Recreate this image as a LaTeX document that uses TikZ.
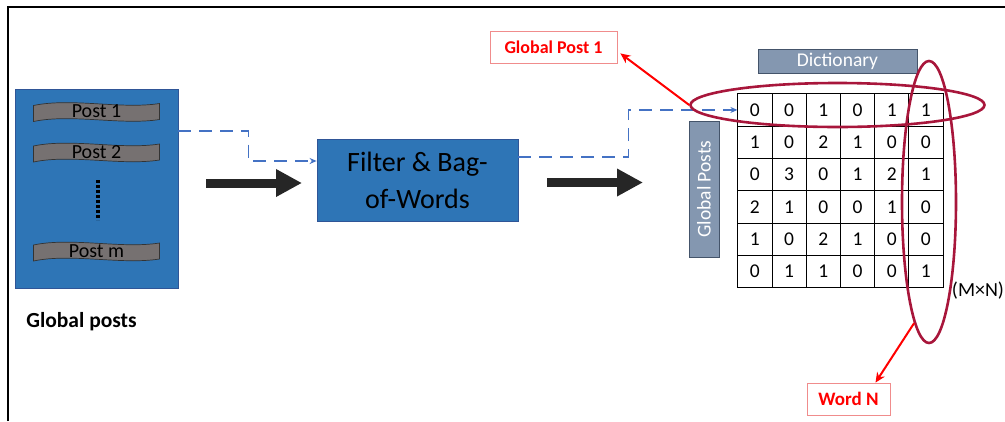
\documentclass[tikz,border=0pt]{standalone}
\usepackage{fontspec}
\setmainfont{Carlito}
\usetikzlibrary{arrows.meta,matrix,shapes.geometric,positioning}
\definecolor{boxblue}{HTML}{2E75B6}
\definecolor{boxedge}{HTML}{2F5597}
\definecolor{linkblue}{HTML}{4472C4}
\definecolor{postgrey}{HTML}{767171}
\definecolor{slate}{HTML}{8497B0}
\definecolor{slateedge}{HTML}{44546A}
\definecolor{ringred}{HTML}{A8163B}
\definecolor{tagred}{HTML}{FF0000}
\definecolor{tagedge}{HTML}{F08C8C}
\definecolor{heavy}{HTML}{262626}
\newcommand{\postband}[4]{%
\draw[fill=postgrey,draw=black!80,line width=.7pt] (#1-63,#2-6) .. controls (#1-25,#2-14) and (#1+25,#2-2) .. (#1+63,#2-8) -- (#1+63,#2+8) .. controls (#1+25,#2+14) and (#1-25,#2+2) .. (#1-63,#2+10) -- cycle;
\node[inner sep=0pt,font=\fontsize{20}{22}\selectfont] (#3) at (#1,#2) {#4};}
\begin{document}
\begin{tikzpicture}[x=1pt,y=-1pt,line width=.8pt,
  bluebox/.style={draw=boxedge,fill=boxblue,inner sep=0pt},
  slatebox/.style={draw=slateedge,fill=slate,text=white,inner sep=0pt,font=\fontsize{19.5}{22}\selectfont},
  tagbox/.style={draw=tagedge,text=tagred,inner sep=0pt,font=\bfseries\fontsize{18}{21}\selectfont},
  link/.style={linkblue,line width=1.8pt,dash pattern=on 13pt off 8pt,-{Stealth[length=7pt,width=6pt]}},
  bigarrow/.style={heavy,line width=9pt,-{Triangle[length=26pt,width=26pt]}},
  ring/.style={draw=ringred,line width=2.6pt,ellipse,inner sep=0pt},
  pointer/.style={tagred,line width=2pt,-{Stealth[length=10pt,width=9pt]}},
  cell/.style={draw,anchor=center,minimum width=34.2pt,minimum height=32.3pt,inner sep=0pt,text height=12.5pt,text depth=0pt,font=\fontsize{19.5}{22}\selectfont}]
\path[use as bounding box] (0,0) rectangle (1005,421);
\draw[line width=1.4pt] (8,421) -- (8,7) -- (1005,7);
\node[bluebox,minimum width=163pt,minimum height=199pt] (posts) at (96.5,188.5) {};
\postband{96.5}{111.5}{post1}{Post 1}
\postband{96.5}{152}{post2}{Post 2}
\postband{96.5}{251}{postm}{Post m}
\draw[line width=3.5pt,dash pattern=on 2.5pt off 2.5pt] (98,180) -- (98,220);
\node[anchor=west,inner sep=0pt,font=\bfseries\fontsize{21.5}{24}\selectfont] (gplabel) at (26,322) {Global posts};
\node[bluebox,minimum width=201pt,minimum height=82pt,align=center,font=\fontsize{28}{37}\selectfont] (bow) at (417.5,180) {Filter \& Bag-\\of-Words};
\draw[link] ([yshift=-42pt]posts.north east) -- ++(70,0) |- ([yshift=19pt]bow.west);
\coordinate (a1s) at (206,183);
\coordinate (a1e) at (302,183);
\draw[bigarrow] (a1s) -- (a1e);
\coordinate (a2s) at (547,182.5);
\coordinate (a2e) at (643,182.5);
\draw[bigarrow] (a2s) -- (a2e);
\matrix (dtm) [matrix of nodes,anchor=north west,inner sep=0pt,column sep=-.8pt,row sep=-.8pt,nodes={cell}] at (737,93) {
0 & 0 & 1 & 0 & 1 & 1 \\
1 & 0 & 2 & 1 & 0 & 0 \\
0 & 3 & 0 & 1 & 2 & 1 \\
2 & 1 & 0 & 0 & 1 & 0 \\
1 & 0 & 2 & 1 & 0 & 0 \\
0 & 1 & 1 & 0 & 0 & 1 \\
};
\draw[link] ([yshift=23pt]bow.east) -- ++(110,0) |- (dtm-1-1.west);
\node[slatebox,minimum width=159pt,minimum height=24pt] (dict) at (837.5,61) {Dictionary};
\node[slatebox,minimum width=136pt,minimum height=30pt,rotate=90] (gposts) at (704,189) {Global Posts};
\node[ring,minimum width=294pt,minimum height=44pt] (rowring) at (837.5,105) {};
\node[ring,minimum width=54pt,minimum height=282pt] (colring) at (929,202) {};
\node[inner sep=0pt,font=\fontsize{20}{22}\selectfont] (size) at (978,291) {(M×N)};
\node[tagbox,minimum width=127pt,minimum height=32pt] (gp1tag) at (553.5,47) {Global Post 1};
\node[tagbox,minimum width=83pt,minimum height=32pt,font=\bfseries\fontsize{19}{22}\selectfont] (wordtag) at (848.5,399) {Word N};
\draw[pointer] (rowring.west) -- ([shift={(3,-10)}]gp1tag.south east);
\draw[pointer] (colring.263) -- ([xshift=27pt]wordtag.north);
\end{tikzpicture}
\end{document}
